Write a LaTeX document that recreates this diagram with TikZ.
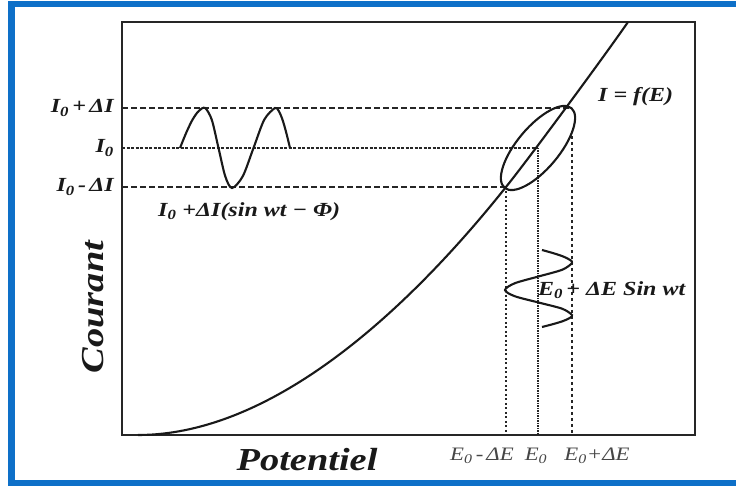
\documentclass[tikz,border=0pt]{standalone}
\usepackage{fontspec}
\setmainfont{Liberation Serif}
\newfontfamily\lab[FakeStretch=1.2]{Liberation Serif}
\definecolor{frameblue}{RGB}{14,112,200}
\definecolor{elab}{RGB}{70,70,70}
\newcommand{\subz}{\textsubscript{0}}
\begin{document}
\begin{tikzpicture}[x=1pt,y=1pt,
  lbl/.style={font=\lab\bfseries\itshape\fontsize{20}{24}\selectfont, inner sep=0pt, text=black!90},
  big/.style={font=\lab\bfseries\itshape\fontsize{32}{36}\selectfont, inner sep=0pt, text=black!90},
  elbl/.style={font=\lab\itshape\fontsize{19}{21}\selectfont, inner sep=0pt, text=elab},
  axisline/.style={line width=2.2pt, black!85},
  curve/.style={line width=2.1pt, black!90},
  dashI/.style={line width=2pt, dash pattern=on 6pt off 3pt, black!85},
  dotI/.style={line width=2pt, dash pattern=on 3pt off 1.5pt, black!85},
  dotV/.style={line width=2pt, dash pattern=on 2pt off 2.5pt, black!85},
  dotVtwo/.style={line width=2pt, dash pattern=on 1.5pt off 1pt, black!85},
  dashV/.style={line width=2pt, dash pattern=on 3pt off 3pt, black!85}]
\useasboundingbox (0,0) rectangle (736,486);
\clip (0,0) rectangle (736,486);
\fill[white] (0,0) rectangle (736,486);
\draw[frameblue, line width=6.5pt] (11.5,3) rectangle (760,482);
% plot box
\draw[axisline] (122,51) rectangle (695,464);
% coordinates
\coordinate (aHi) at (122,378);
\coordinate (aMid) at (122,338);
\coordinate (aLo) at (122,299);
\coordinate (cHi) at (569,378);
\coordinate (cMid) at (538,338);
\coordinate (cLo) at (506,299);
\coordinate (bLo) at (506,51);
\coordinate (bMid) at (538,51);
\coordinate (bHi) at (572,51);
\coordinate (eTop) at (572,350);
\coordinate (cStart) at (138,51);
\coordinate (cEnd) at (628,464);
% guide lines
\draw[dashI] (aHi) -- (cHi);
\draw[dotI] (aMid) -- (cMid);
\draw[dashI] (aLo) -- (cLo);
\draw[dotV] (cLo) -- (bLo);
\draw[dotVtwo] (cMid) -- (bMid);
\draw[dashV] (eTop) -- (bHi);
% characteristic curve
\draw[curve] (cStart) .. controls (288,51) and (431,205) .. (cLo)
  .. controls (531,330.2) and (605.3,431.1) .. (cEnd);
% ellipse
\draw[curve, rotate around={50:(cMid)}] (cMid) ellipse [x radius=52, y radius=21];
% current sine
\draw[curve] plot[smooth] coordinates {(180,338) (186.25,353.3) (192.5,366.3) (198.75,375) (205,378)
  (211.75,366.3) (218.5,338) (225.25,309.7) (232,298)
  (242.75,309.7) (253.5,338) (264.25,366.3) (275,378)
  (278.75,375) (282.5,366.3) (286.25,353.3) (290,338)};
% potential sine
\draw[curve] plot[smooth] coordinates {(542,236) (553.5,232.75) (563.2,229.5) (569.7,226.25) (572,223)
  (562.2,216.25) (538.5,209.5) (514.8,202.75) (505,196)
  (514.8,189.75) (538.5,183.5) (562.2,177.25) (572,171)
  (569.7,168) (563.2,165) (553.5,162) (542,159)};
% labels
\node[lbl, anchor=east] (lHi) at (114,378) {I\subz\,+\,ΔI};
\node[lbl, anchor=east] (lMid) at (114,338) {I\subz};
\node[lbl, anchor=east] (lLo) at (114,299) {I\subz\,-\,ΔI};
\node[lbl, anchor=west] (lSin) at (158,274) {I\subz\ +ΔI(sin wt − Φ)};
\node[lbl, anchor=west] (lFun) at (598,389) {I = f(E)};
\node[lbl, anchor=west] (lEsin) at (538,196) {E\subz\,+ ΔE Sin wt};
\node[big, rotate=90] (lCour) at (93,179) {Courant};
\node[big] (lPot) at (307,26) {Potentiel};
\node[elbl] (eLo) at (482,30) {E\subz\,-\,ΔE};
\node[elbl] (eMid) at (536,30) {E\subz};
\node[elbl] (eHi) at (597,30) {E\subz+ΔE};
\end{tikzpicture}
\end{document}
